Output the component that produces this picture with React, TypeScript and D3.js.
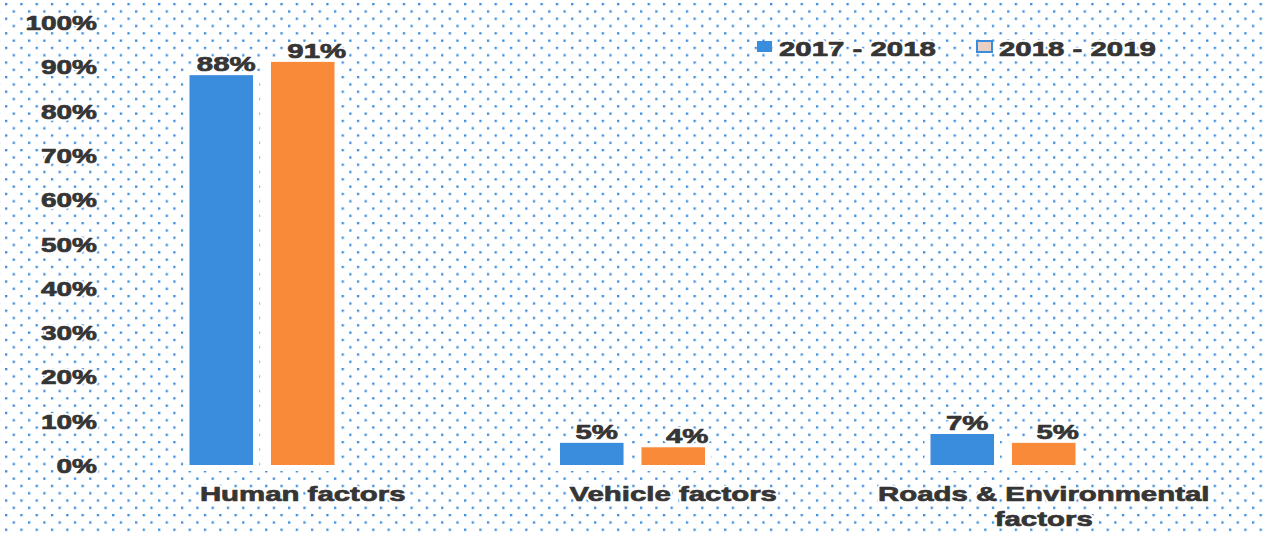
import React from "react";
import * as d3 from "d3";

const categories = ["Human factors", "Vehicle factors", "Roads & Environmental factors"];
const categoryLines = [["Human factors"], ["Vehicle factors"], ["Roads & Environmental", "factors"]];
const seriesNames = ["2017 - 2018", "2018 - 2019"];
const values2017 = [0.88, 0.05, 0.07];
const values2018 = [0.91, 0.04, 0.05];
const yTickValues = [0, 0.1, 0.2, 0.3, 0.4, 0.5, 0.6, 0.7, 0.8, 0.9, 1.0];

const W = 1263;
const H = 533;
const COLORS = ["#3a8cdc", "#f98a3a"];
const TEXT = "#353535";
const FONT = "'Liberation Sans', Arial, sans-serif";
const SX = 1.4;

function SText({ x, y, anchor = "middle", size = 21, children }: any) {
  const common = {
    textAnchor: anchor,
    fontFamily: FONT,
    fontWeight: "bold" as any,
    fontSize: size,
  };
  return (
    <g transform={`translate(${x},${y}) scale(${SX},1)`}>
      <text {...common} fill="#fff" stroke="#fff" strokeWidth={4} strokeLinejoin="round">
        {children}
      </text>
      <text {...common} fill={TEXT} stroke={TEXT} strokeWidth={0.7} strokeLinejoin="round">
        {children}
      </text>
    </g>
  );
}

export default function App() {
  const y = d3.scaleLinear().domain([0, 1]).range([465, 22]);
  const x0 = d3.scalePoint<string>().domain(categories).range([262, 1003]);
  const x1 = d3.scaleBand<string>().domain(seriesNames).range([-72.5, 72.5]).paddingInner(0.22);
  const fmt = d3.format(".0%");
  const data = [values2017, values2018];
  const labelOffsets = [5, 14];

  return (
    <svg width={W} height={H} style={{ position: "absolute", left: 0, top: 0, display: "block" }}>
      <defs>
        <pattern id="dots" width={15.3} height={14.6} patternUnits="userSpaceOnUse" x={5} y={3}>
          <rect x={0} y={0} width={2.3} height={2.3} fill="#3a8ddc" />
          <rect x={7.65} y={7.3} width={2.3} height={2.3} fill="#3a8ddc" />
        </pattern>
      </defs>
      <rect x={0} y={0} width={W} height={H} fill="#fff" />
      <rect x={0} y={0} width={W} height={H} fill="url(#dots)" />

      {/* white halos behind bars */}
      {categories.map((c, ci) =>
        seriesNames.map((s, si) => {
          const v = data[si][ci];
          const bx = (x0(c) as number) + (x1(s) as number);
          return (
            <rect
              key={`h-${ci}-${si}`}
              x={bx - 6}
              y={y(v) - 4}
              width={x1.bandwidth() + 12}
              height={y(0) - y(v) + 10}
              fill="#fff"
            />
          );
        })
      )}

      {/* bars */}
      {categories.map((c, ci) =>
        seriesNames.map((s, si) => {
          const v = data[si][ci];
          const bx = (x0(c) as number) + (x1(s) as number);
          return (
            <rect
              key={`b-${ci}-${si}`}
              x={bx}
              y={y(v)}
              width={x1.bandwidth()}
              height={y(0) - y(v)}
              fill={COLORS[si]}
            />
          );
        })
      )}

      {/* data labels */}
      {categories.map((c, ci) =>
        seriesNames.map((s, si) => {
          const v = data[si][ci];
          const cx = (x0(c) as number) + (x1(s) as number) + x1.bandwidth() / 2 + labelOffsets[si];
          return (
            <SText key={`l-${ci}-${si}`} x={cx} y={y(v) - 4}>
              {fmt(v)}
            </SText>
          );
        })
      )}

      {/* y axis tick labels */}
      {yTickValues.map((t) => (
        <SText key={`t-${t}`} x={97} y={y(t) + 8} anchor="end" size={20}>
          {fmt(t)}
        </SText>
      ))}

      {/* category labels */}
      {categories.map((c, ci) => {
        const cx = (x0(c) as number) + (x1(seriesNames[1]) as number) + x1.bandwidth() / 2;
        return categoryLines[ci].map((line, li) => (
          <SText key={`c-${ci}-${li}`} x={cx} y={501 + li * 25}>
            {line}
          </SText>
        ));
      })}

      {/* legend */}
      {seriesNames.map((s, si) => {
        const lx = 757 + si * 220;
        return (
          <g key={`lg-${si}`}>
            <rect
              x={lx}
              y={41}
              width={15}
              height={11}
              fill={si === 0 ? COLORS[0] : "#ead0c4"}
              stroke={si === 0 ? "none" : COLORS[0]}
              strokeWidth={si === 0 ? 0 : 2}
            />
            <SText x={lx + 22} y={56} anchor="start">
              {s}
            </SText>
          </g>
        );
      })}
    </svg>
  );
}
